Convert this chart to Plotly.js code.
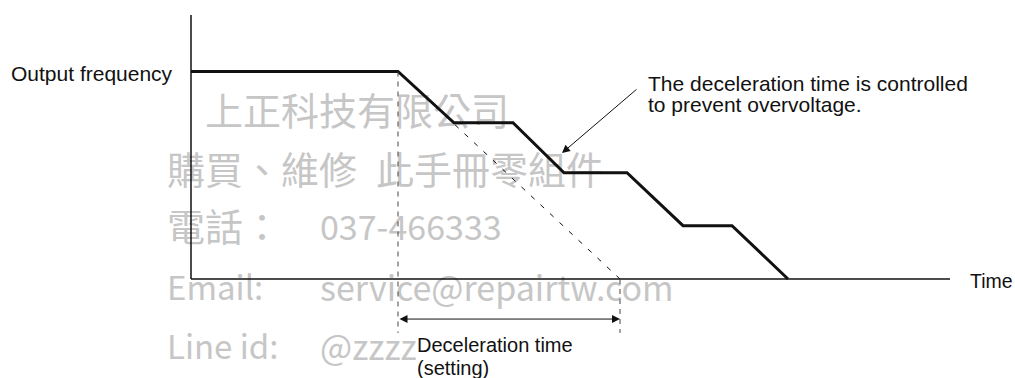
<!DOCTYPE html>
<html>
<head>
<meta charset="utf-8">
<script src="https://cdn.plot.ly/plotly-3.0.1.min.js"></script>
<style>
  html, body { margin: 0; padding: 0; background: #fff; }
  #chart { width: 1015px; height: 378px; }
</style>
</head>
<body>
<div id="chart"></div>
<script>
// output frequency profile during deceleration with stall prevention
// time in arbitrary units, frequency in % of the output frequency
const timePts = [0, 20.7, 26.3, 32.2, 37.3, 43.6, 49.2, 54.1, 59.7];
const freqPts = [100, 100, 75.3, 75.3, 51.2, 51.2, 25.7, 25.7, 0];

// deceleration time as set (straight ramp)
const setTime = [20.7, 42.9];
const setFreq = [100, 0];

// axes extents and dimension line level
const axisTimeEnd = 75.9;
const axisFreqTop = 127.2;
const dimLevel = -19.3;
const guideBottom = -26;

// callout arrow (tail -> head)
const calloutTail = [44.7, 92.0];
const calloutHead = [37.1, 60.7];

// watermark rows
const wmLabels = ['上正科技有限公司', '購買、維修\u2002此手冊零組件', '電話：', '037-466333',
  'Email:', 'service@repairtw.com', 'Line id:', '@zzzz'];

// page layout helpers: pixel -> data
const W = 1015, H = 378;
const X0 = 191, Y0 = 279, PX_T = 10, PX_F = 2.075;
const tx = px => (px - X0) / PX_T;
const fy = py => (Y0 - py) / PX_F;

const wmX = [205, 167, 167, 320, 167, 320, 167, 320].map(tx);
const wmY = [115, 174, 231, 231, 292, 292, 351, 351].map(fy);

const ink = '#111';
const FONT = 'Liberation Sans, Arial, Helvetica, sans-serif';

const traces = [
  {
    x: wmX, y: wmY, text: wmLabels,
    type: 'scatter', mode: 'text', textposition: 'middle right',
    textfont: {
      family: 'Noto Sans CJK TC, sans-serif',
      size: [38, 38, 38, 34, 33, 34, 33, 34],
      color: '#c6c6c6'
    },
    hoverinfo: 'skip'
  },
  {
    x: setTime, y: setFreq,
    type: 'scatter', mode: 'lines',
    line: { color: ink, width: 1, dash: '5px,8px' },
    hoverinfo: 'skip'
  },
  {
    x: timePts, y: freqPts,
    type: 'scatter', mode: 'lines',
    line: { color: ink, width: 3 },
    hoverinfo: 'skip'
  }
];

const shapes = [
  // axes
  { type: 'line', x0: 0, x1: 0, y0: 0, y1: axisFreqTop, line: { color: ink, width: 1.5 } },
  { type: 'line', x0: 0, x1: axisTimeEnd, y0: 0, y1: 0, line: { color: ink, width: 1.5 } },
  // guide lines for the set deceleration time
  { type: 'line', x0: setTime[0], x1: setTime[0], y0: setFreq[0], y1: guideBottom,
    line: { color: '#444', width: 1, dash: '5px,5px' } },
  { type: 'line', x0: setTime[1], x1: setTime[1], y0: 0, y1: guideBottom,
    line: { color: '#444', width: 1, dash: '5px,5px' } }
].map(s => Object.assign({ xref: 'x', yref: 'y', layer: 'above' }, s));

function label(text, px, py, anchor, size, pad) {
  return {
    text: text, xref: 'paper', yref: 'paper',
    x: px / W, y: 1 - py / H,
    xanchor: anchor || 'left', yanchor: 'middle',
    showarrow: false, borderpad: pad === undefined ? 1 : pad,
    font: { family: FONT, size: size || 21, color: ink }
  };
}

const annotations = [
  label('Output frequency', 175, 73.5, 'right'),
  label('Time', 968, 280.7, 'left', 19.5),
  label('The deceleration time is controlled', 646, 83.7),
  label('to prevent overvoltage.', 646, 104.4),
  label('Deceleration time', 416, 345.3, 'left', 20, 0),
  label('(setting)', 416, 367.6, 'left', 20, 0),
  {
    xref: 'x', yref: 'y', axref: 'x', ayref: 'y',
    x: calloutHead[0], y: calloutHead[1], ax: calloutTail[0], ay: calloutTail[1],
    text: '', showarrow: true, arrowhead: 2, arrowsize: 1.6, arrowwidth: 1, arrowcolor: ink
  },
  {
    xref: 'x', yref: 'y', axref: 'x', ayref: 'y',
    x: setTime[1], y: dimLevel, ax: setTime[0], ay: dimLevel,
    text: '', showarrow: true, arrowside: 'end+start',
    arrowhead: 2, startarrowhead: 2, arrowsize: 1.6, startarrowsize: 1.6,
    arrowwidth: 1, arrowcolor: ink
  }
];

const layout = {
  width: W, height: H,
  margin: { l: 0, r: 0, t: 0, b: 0, pad: 0 },
  paper_bgcolor: '#fff', plot_bgcolor: '#fff',
  showlegend: false,
  xaxis: { range: [tx(0), tx(W)], visible: false, fixedrange: true },
  yaxis: { range: [fy(H), fy(0)], visible: false, fixedrange: true },
  shapes: shapes,
  annotations: annotations
};

Plotly.newPlot('chart', traces, layout, { staticPlot: true, displayModeBar: false });
</script>
</body>
</html>
